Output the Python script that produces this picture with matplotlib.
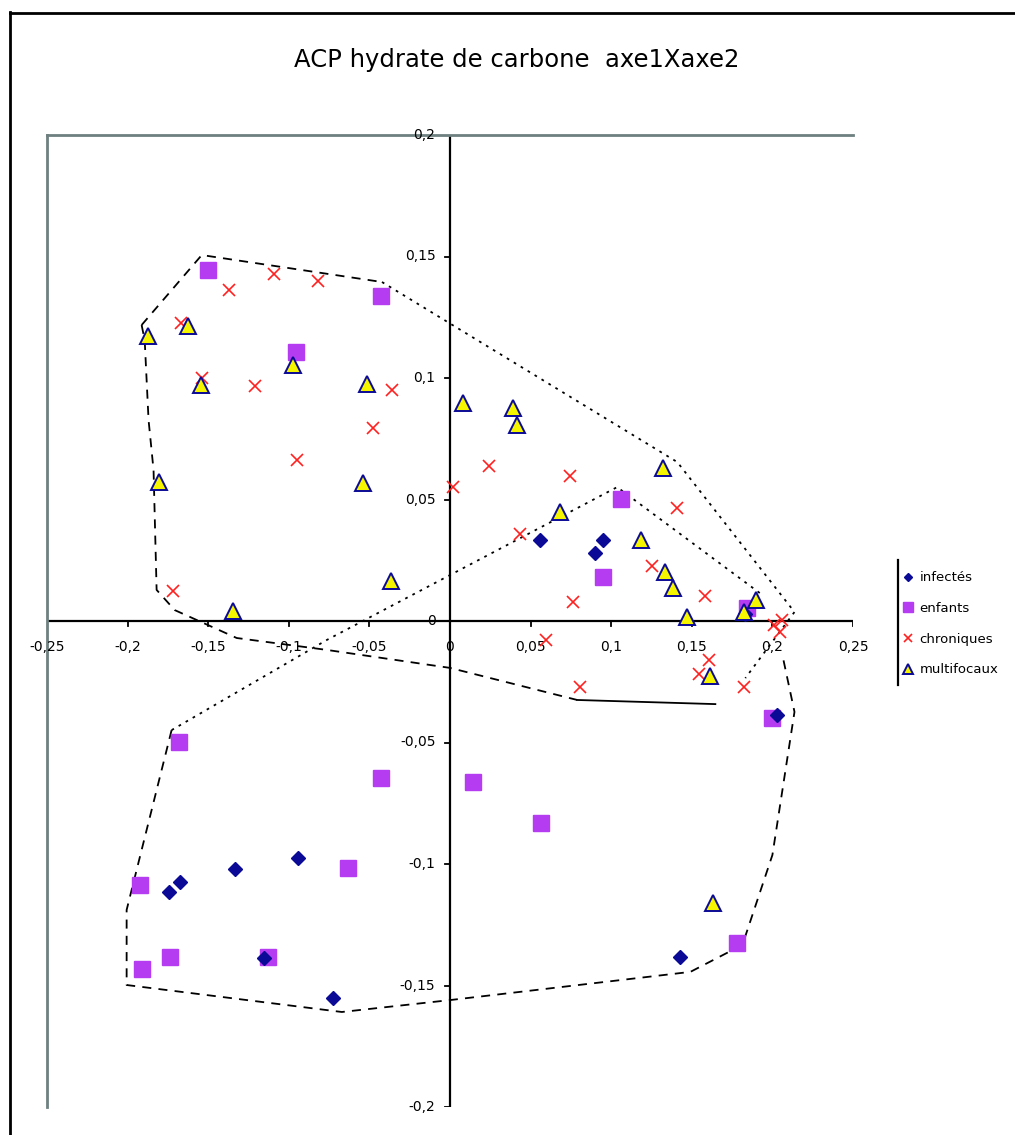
import matplotlib
matplotlib.use("Agg")
import matplotlib.pyplot as plt

plt.rcParams['font.family'] = ['DejaVu Sans']

# --- scores on axis 1 / axis 2 for each group ---
infectes_x = [0.0559, 0.095, 0.090, -0.1745, -0.1677, -0.1335, -0.0944, -0.1155,
              -0.0727, 0.1429, 0.2031, 0.183]
infectes_y = [0.0333, 0.0333, 0.028, -0.1115, -0.1074, -0.102, -0.0975, -0.1387,
              -0.1551, -0.1383, -0.0387, 0.003]

enfants_x = [-0.1503, -0.0429, -0.0957, 0.1062, 0.095, 0.1845, 0.2, -0.1683, -0.0429,
             0.0143, 0.0565, -0.0634, -0.1925, -0.1739, -0.113, -0.1913, 0.1783]
enfants_y = [0.1444, 0.1337, 0.1107, 0.0502, 0.0181, 0.0053, -0.0399, -0.0498, -0.0646,
             -0.0663, -0.0831, -0.1016, -0.1086, -0.1383, -0.1383, -0.1432, -0.1325]

chroniques_x = [-0.1373, -0.1093, -0.082, -0.1671, -0.154, -0.1211, -0.036, -0.0478,
                -0.095, 0.0242, 0.0745, 0.0019, 0.141, 0.0435, 0.1255, 0.0764, 0.1584,
                0.0596, 0.0807, 0.1547, 0.1609, 0.1826, -0.172, 0.2012, 0.2062, 0.205]
chroniques_y = [0.1362, 0.1428, 0.1399, 0.1226, 0.1, 0.0967, 0.0951, 0.0794, 0.0663,
                0.0638, 0.0597, 0.0551, 0.0465, 0.0358, 0.0226, 0.0078, 0.0103,
                -0.0078, -0.0272, -0.0218, -0.016, -0.0272, 0.0123, -0.0016, 0.0004,
                -0.0045]

multi_x = [-0.1876, -0.1627, -0.1547, -0.0975, -0.0516, 0.0081, 0.0391, 0.0416, 0.1323,
           -0.1807, -0.054, 0.0683, 0.1186, 0.1335, 0.1385, -0.1348, -0.0366, 0.1472,
           0.1615, 0.1634, 0.19, 0.1826]
multi_y = [0.1173, 0.1214, 0.0971, 0.1053, 0.0975, 0.0897, 0.0877, 0.0807, 0.063,
           0.0572, 0.0568, 0.0449, 0.0333, 0.0202, 0.0136, 0.0041, 0.0165, 0.0016,
           -0.0226, -0.116, 0.0086, 0.0037]

# --- group envelopes drawn by hand around the clouds ---
env_top_x = [-0.1913, -0.154, -0.0422]
env_top_y = [0.1218, 0.1506, 0.1395]
env_right_x = [-0.0422, 0.141, 0.2137, 0.1832]
env_right_y = [0.1395, 0.0654, 0.0037, -0.0235]
env_low_x = [-0.1913, -0.1894, -0.187, -0.1839, -0.182, -0.1708, -0.1323, -0.0764, 0.0,
             0.0789]
env_low_y = [0.1218, 0.1156, 0.0827, 0.0621, 0.0128, 0.0045, -0.007, -0.0119, -0.0193,
             -0.0325]
env_base_x = [0.0789, 0.1646]
env_base_y = [-0.0325, -0.0342]
env_mid_x = [-0.1727, -0.0764, 0.0, 0.1037, 0.1938]
env_mid_y = [-0.0449, -0.0078, 0.0189, 0.0551, 0.0107]
env_bot_x = [-0.1727, -0.2006, -0.2006, -0.0671, 0.0, 0.1491, 0.1814, 0.2, 0.2137, 0.2062]
env_bot_y = [-0.0449, -0.1189, -0.1498, -0.1609, -0.156, -0.1444, -0.1333, -0.0963,
             -0.0374, -0.014]

x_ticks = [-0.25, -0.2, -0.15, -0.1, -0.05, 0.0, 0.05, 0.1, 0.15, 0.2, 0.25]
x_labels = ['-0,25', '-0,2', '-0,15', '-0,1', '-0,05', '0', '0,05', '0,1', '0,15', '0,2', '0,25']
y_ticks = [-0.2, -0.15, -0.1, -0.05, 0.0, 0.05, 0.1, 0.15, 0.2]
y_labels = ['-0,2', '-0,15', '-0,1', '-0,05', '0', '0,05', '0,1', '0,15', '0,2']

W, H = 1015, 1135
fig = plt.figure(figsize=(W / 100, H / 100), dpi=100)

# outer chart frame (left and top edges)
fig.add_artist(plt.Line2D([9.5 / W, 9.5 / W], [0, 1 - 12 / H], color='black', lw=2))
fig.add_artist(plt.Line2D([9.5 / W, 1], [1 - 12.5 / H, 1 - 12.5 / H], color='black', lw=2))

ax = fig.add_axes([47 / W, 1 - 1107 / H, (853 - 47) / W, (1107 - 135) / H])
ax.set_xlim(-0.25, 0.25)
ax.set_ylim(-0.2, 0.2)
for s in ['right', 'bottom']:
    ax.spines[s].set_visible(False)
for s in ['top', 'left']:
    ax.spines[s].set_color('#6e8080')
    ax.spines[s].set_linewidth(2)
ax.set_xticks([])
ax.set_yticks([])

# axes through the origin
ax.axhline(0, color='black', lw=1.6, zorder=2)
ax.axvline(0, color='black', lw=1.6, zorder=2)
for xv, lab in zip(x_ticks, x_labels):
    ax.plot([xv, xv], [0, -5 * 0.4 / 972], color='black', lw=1.3, zorder=2)
    ax.text(xv, -0.008, lab, ha='center', va='top', fontsize=10)
for yv, lab in zip(y_ticks, y_labels):
    ax.plot([0, -5 * 0.5 / 806], [yv, yv], color='black', lw=1.3, zorder=2)
    ax.text(-0.009, yv, lab, ha='right', va='center', fontsize=10)

# envelopes
dash = dict(color='black', lw=1.3, ls=(0, (5, 4)), zorder=3)
dot = dict(color='black', lw=1.3, ls=(0, (1.5, 3)), zorder=3)
ax.plot(env_top_x, env_top_y, **dash)
ax.plot(env_right_x, env_right_y, **dot)
ax.plot(env_low_x, env_low_y, **dash)
ax.plot(env_base_x, env_base_y, color='black', lw=1.3, zorder=3)
ax.plot(env_mid_x, env_mid_y, **dot)
ax.plot(env_bot_x, env_bot_y, **dash)

# groups
h1, = ax.plot(infectes_x, infectes_y, ls='none', marker='D', ms=7, mfc='#0a0a96',
              mec='#0a0a96', zorder=5, label='infectés')
h2, = ax.plot(enfants_x, enfants_y, ls='none', marker='s', ms=11, mfc='#b63cf2',
              mec='#b63cf2', zorder=4, label='enfants')
h3, = ax.plot(chroniques_x, chroniques_y, ls='none', marker='x', ms=9, mew=1.2,
              color='#ff2020', zorder=4, label='chroniques')
h4, = ax.plot(multi_x, multi_y, ls='none', marker='^', ms=11, mfc='#f5f500',
              mec='#0a0a96', mew=1.4, zorder=6, label='multifocaux')

fig.text(517 / W, 1 - 60 / H, 'ACP hydrate de carbone  axe1Xaxe2', ha='center',
         va='center', fontsize=17.5)

leg = fig.legend(handles=[h1, h2, h3, h4], loc='upper left',
                 bbox_to_anchor=(897 / W, 1 - 566 / H), frameon=False, fontsize=9.5,
                 handlelength=0.8, handletextpad=0.5, labelspacing=1.34,
                 borderaxespad=0, markerscale=0.6)
fig.add_artist(plt.Line2D([897.5 / W, 897.5 / W], [1 - 685 / H, 1 - 560 / H],
                          color='black', lw=1.6))

fig.savefig('out.png', dpi=100)
